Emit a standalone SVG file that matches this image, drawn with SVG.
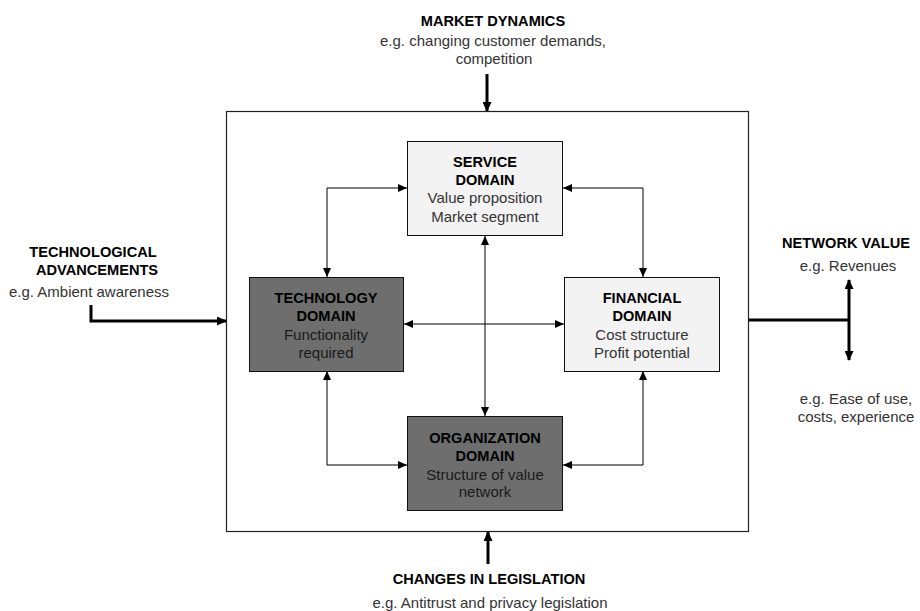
<svg xmlns="http://www.w3.org/2000/svg" width="920" height="611" viewBox="0 0 920 611">
<defs>
<marker id="a" markerUnits="userSpaceOnUse" markerWidth="9" markerHeight="8" refX="9" refY="4" orient="auto-start-reverse"><path d="M0,0 L9,4 L0,8 z" fill="#000"/></marker>
<marker id="b" markerUnits="userSpaceOnUse" markerWidth="10" markerHeight="9" refX="9" refY="4.5" orient="auto-start-reverse"><path d="M0,0 L10,4.5 L0,9 z" fill="#000"/></marker>
</defs>
<style>
text{font-family:"Liberation Sans",Arial,sans-serif;font-size:15px;text-anchor:middle;fill:#333}
.b{font-weight:bold;fill:#000;font-size:14.6px}
.d text{fill:#1a1a1a}
.d text.b{fill:#000}
.dk{fill:#6e6e6e;stroke:#111;stroke-width:1}
.lt{fill:#f3f3f3;stroke:#111;stroke-width:1}
.c{fill:none;stroke:#000;stroke-width:1}
.t{fill:none;stroke:#000;stroke-width:3}
</style>
<rect x="226.5" y="111.5" width="522" height="420" fill="#fff" stroke="#222" stroke-width="1.2"/>
<g id="connectors">
<path class="c" d="M327,277 L327,188 L407,188" marker-start="url(#a)" marker-end="url(#a)"/>
<path class="c" d="M643,277 L643,188 L563,188" marker-start="url(#a)" marker-end="url(#a)"/>
<path class="c" d="M485,236 L485,416" marker-start="url(#a)" marker-end="url(#a)"/>
<path class="c" d="M404,324 L564,324" marker-start="url(#a)" marker-end="url(#a)"/>
<path class="c" d="M327,371 L327,465 L407,465" marker-start="url(#a)" marker-end="url(#a)"/>
<path class="c" d="M643,371 L643,465 L563,465" marker-start="url(#a)" marker-end="url(#a)"/>
<path class="t" d="M487,74 L487,111" marker-end="url(#b)"/>
<path class="t" d="M91,305 L91,321 L226,321" marker-end="url(#b)"/>
<path class="t" d="M488,564 L488,532" marker-end="url(#b)"/>
<path class="t" d="M749,320 L849,320"/>
<path class="t" d="M849,280 L849,360" marker-start="url(#b)" marker-end="url(#b)"/>
</g>
<g id="service">
<rect class="lt" x="407.5" y="141.5" width="155" height="94"/>
<text class="b" x="485" y="167">SERVICE</text>
<text class="b" x="485" y="184.5">DOMAIN</text>
<text x="485" y="203">Value proposition</text>
<text x="485" y="221.5">Market segment</text>
</g>
<g id="technology" class="d">
<rect class="dk" x="249.5" y="277.5" width="154" height="94"/>
<text class="b" x="326" y="303">TECHNOLOGY</text>
<text class="b" x="326" y="321">DOMAIN</text>
<text x="326" y="339.5">Functionality</text>
<text x="326" y="357.5">required</text>
</g>
<g id="financial">
<rect class="lt" x="564.5" y="277.5" width="155" height="94"/>
<text class="b" x="642" y="303">FINANCIAL</text>
<text class="b" x="642" y="321">DOMAIN</text>
<text x="642" y="339.5">Cost structure</text>
<text x="642" y="358">Profit potential</text>
</g>
<g id="organization" class="d">
<rect class="dk" x="407.5" y="416.5" width="155" height="94"/>
<text class="b" x="485" y="442.5">ORGANIZATION</text>
<text class="b" x="485" y="460.5">DOMAIN</text>
<text x="485" y="480">Structure of value</text>
<text x="485" y="497">network</text>
</g>
<g id="market">
<text class="b" x="493" y="26">MARKET DYNAMICS</text>
<text x="493" y="46">e.g. changing customer demands,</text>
<text x="494" y="64">competition</text>
</g>
<g id="techadv">
<text class="b" x="93" y="257">TECHNOLOGICAL</text>
<text class="b" x="97" y="275">ADVANCEMENTS</text>
<text x="89" y="297">e.g. Ambient awareness</text>
</g>
<g id="network">
<text class="b" x="846" y="248">NETWORK VALUE</text>
<text x="848" y="271">e.g. Revenues</text>
<text x="856" y="403.5">e.g. Ease of use,</text>
<text x="856" y="421.5">costs, experience</text>
</g>
<g id="legislation">
<text class="b" x="489" y="584">CHANGES IN LEGISLATION</text>
<text x="490" y="608">e.g. Antitrust and privacy legislation</text>
</g>
</svg>
